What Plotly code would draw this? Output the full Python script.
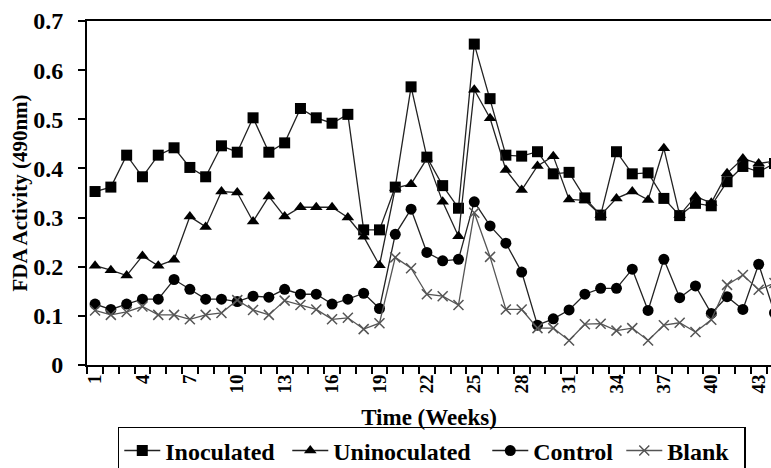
import plotly.graph_objects as go

weeks = list(range(1, 45))
inoculated = [0.353, 0.362, 0.427, 0.383, 0.427, 0.442, 0.402, 0.383, 0.446, 0.433,
              0.503, 0.433, 0.452, 0.522, 0.503, 0.492, 0.510, 0.275, 0.275, 0.362,
              0.566, 0.423, 0.365, 0.319, 0.653, 0.542, 0.427, 0.425, 0.434, 0.389,
              0.392, 0.340, 0.305, 0.434, 0.389, 0.391, 0.339, 0.304, 0.329, 0.324,
              0.373, 0.404, 0.393, 0.410]
uninoculated = [0.202, 0.193, 0.182, 0.222, 0.202, 0.214, 0.302, 0.281, 0.353, 0.351,
                0.292, 0.343, 0.302, 0.321, 0.321, 0.321, 0.300, 0.261, 0.203, 0.360,
                0.368, 0.420, 0.332, 0.262, 0.560, 0.502, 0.397, 0.356, 0.405, 0.425,
                0.337, 0.335, 0.305, 0.339, 0.353, 0.336, 0.441, 0.305, 0.343, 0.330,
                0.390, 0.420, 0.410, 0.415]
control = [0.124, 0.113, 0.124, 0.134, 0.134, 0.174, 0.154, 0.134, 0.134, 0.129,
           0.140, 0.138, 0.154, 0.144, 0.144, 0.124, 0.134, 0.146, 0.115, 0.266,
           0.317, 0.229, 0.212, 0.215, 0.332, 0.283, 0.248, 0.189, 0.081, 0.094,
           0.112, 0.144, 0.156, 0.156, 0.195, 0.111, 0.215, 0.137, 0.161, 0.105,
           0.139, 0.113, 0.205, 0.106]
blank = [0.111, 0.102, 0.108, 0.119, 0.102, 0.102, 0.093, 0.102, 0.106, 0.132,
         0.112, 0.102, 0.131, 0.122, 0.113, 0.093, 0.096, 0.073, 0.085, 0.219,
         0.197, 0.144, 0.140, 0.122, 0.310, 0.220, 0.113, 0.113, 0.075, 0.075,
         0.050, 0.083, 0.084, 0.070, 0.075, 0.050, 0.081, 0.086, 0.067, 0.092,
         0.163, 0.183, 0.153, 0.167]

tick_weeks = list(range(1, 44, 3))
tick_labels = [str(w) for w in tick_weeks]
y_ticks = [0, 0.1, 0.2, 0.3, 0.4, 0.5, 0.6, 0.7]
y_labels = ["0", "0.1", "0.2", "0.3", "0.4", "0.5", "0.6", "0.7"]

FONT = "Liberation Serif"
series = [
    ("Inoculated", inoculated, dict(symbol="square", size=11, color="black"), "#222222", 117),
    ("Uninoculated", uninoculated, dict(symbol="triangle-up", size=11, color="black"), "#222222", 149),
    ("Control", control, dict(symbol="circle", size=11, color="black"), "#222222", 83),
    ("Blank", blank, dict(symbol="x-thin", size=10, color="#555555",
                          line=dict(width=1.5, color="#555555")), "#555555", 72),
]

fig = go.Figure()
for name, vals, mk, lc, lw in series:
    fig.add_trace(go.Scatter(
        x=weeks, y=vals, name=name, mode="lines+markers",
        line=dict(color=lc, width=1.3), marker=mk, cliponaxis=True,
        legendwidth=lw,
    ))

fig.update_layout(
    width=771, height=468,
    margin=dict(l=87, r=0, t=21, b=103, autoexpand=False),
    plot_bgcolor="white", paper_bgcolor="white",
    font=dict(family=FONT, color="black"),
    showlegend=True,
    legend=dict(
        orientation="h", x=0.045, y=-0.18, xanchor="left", yanchor="top",
        bordercolor="black", borderwidth=1.5,
        font=dict(family=FONT, size=24, color="black", weight="bold"),
        itemwidth=36, tracegroupgap=0,
    ),
    xaxis=dict(
        range=[0.49, 43.78], tickmode="array", tickvals=tick_weeks, ticktext=tick_labels,
        tickangle=-90, ticks="", showgrid=False, zeroline=False, automargin=False,
        showline=True, linecolor="black", linewidth=2, mirror=True,
        tickfont=dict(family=FONT, size=19, weight="bold"),
        minor=dict(ticks="outside", tick0=0.5, dtick=1, ticklen=7, tickwidth=1.5, tickcolor="black"),
        title=dict(text="Time (Weeks)", font=dict(family=FONT, size=23, weight="bold"), standoff=16),
    ),
    yaxis=dict(
        range=[0, 0.7], tickmode="array", tickvals=y_ticks, ticktext=y_labels,
        ticks="outside", ticklen=7, tickwidth=1.5, tickcolor="black", automargin=False,
        ticklabelstandoff=10,
        showgrid=False, zeroline=False, showline=True, linecolor="black", linewidth=2,
        tickfont=dict(family=FONT, size=24, weight="bold"),
        title=dict(text="FDA Activity (490nm)", font=dict(family=FONT, size=21, weight="bold"), standoff=0),
    ),
)

fig.write_html("out.html", config={"displayModeBar": False},
               post_script="document.body.style.margin='0px';")
